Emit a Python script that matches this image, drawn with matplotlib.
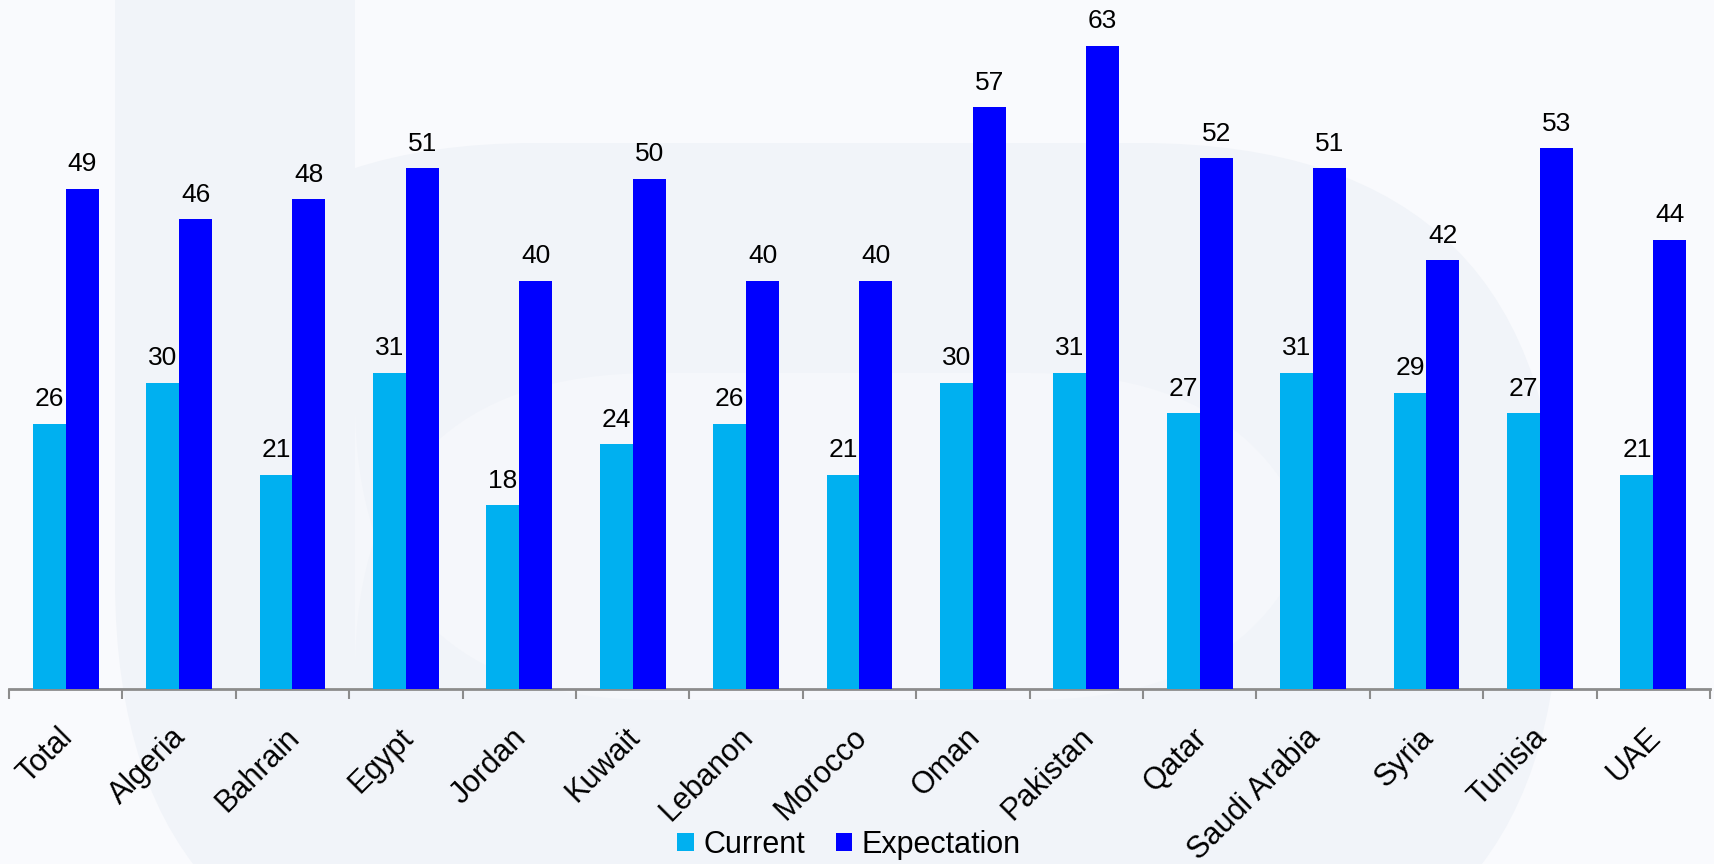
import matplotlib
matplotlib.use('Agg')
import matplotlib.pyplot as plt
import numpy as np
from matplotlib.patches import FancyBboxPatch, Rectangle
from matplotlib.transforms import Affine2D, ScaledTranslation

categories = ['Total', 'Algeria', 'Bahrain', 'Egypt', 'Jordan', 'Kuwait', 'Lebanon',
              'Morocco', 'Oman', 'Pakistan', 'Qatar', 'Saudi Arabia', 'Syria',
              'Tunisia', 'UAE']
current = [26, 30, 21, 31, 18, 24, 26, 21, 30, 31, 27, 31, 29, 27, 21]
expectation = [49, 46, 48, 51, 40, 50, 40, 40, 57, 63, 52, 51, 42, 53, 44]
series_names = ['Current', 'Expectation']
colors = ['#00B0F0', '#0000FF']

plt.rcParams['font.family'] = ['Liberation Sans', 'DejaVu Sans']

W, H = 1715, 864
fig = plt.figure(figsize=(W / 100, H / 100), dpi=100)
bg = '#f9fafd'
wm = '#f1f4f9'
fig.patch.set_facecolor(bg)

# faint watermark shapes (pixel coordinates, y downward)
pix = Affine2D().scale(1 / W, -1 / H).translate(0, 1) + fig.transFigure
outer = FancyBboxPatch((115, 143), 1560 - 115, 1000 - 143,
                       boxstyle='round,pad=0,rounding_size=420',
                       transform=pix, facecolor=wm, edgecolor='none', zorder=-3)
stem = Rectangle((115, -10), 355 - 115, 600, transform=pix,
                 facecolor=wm, edgecolor='none', zorder=-3)
counter = FancyBboxPatch((355, 373), 1330 - 355, 700 - 373,
                         boxstyle='round,pad=0,rounding_size=300',
                         transform=pix, facecolor='#f5f7fb', edgecolor='none', zorder=-2)
for p in (outer, stem, counter):
    fig.add_artist(p)

ax = fig.add_axes([9 / W, 1 - 689 / H, (1710 - 9) / W, 689 / H])
ax.set_facecolor('none')

x = np.arange(len(categories))
bw = 0.29
b1 = ax.bar(x - bw / 2, current, bw, color=colors[0], label=series_names[0], zorder=3)
b2 = ax.bar(x + bw / 2, expectation, bw, color=colors[1], label=series_names[1], zorder=3)

for bars, vals in ((b1, current), (b2, expectation)):
    for r, v in zip(bars, vals):
        ax.annotate(str(v), (r.get_x() + r.get_width() / 2, r.get_height()),
                    xytext=(0, 9), textcoords='offset points',
                    ha='center', va='bottom', fontsize=19, color='black', zorder=4)

ax.set_xlim(-0.5, len(categories) - 0.5)
ax.set_ylim(0, 67.5)

for s in ('top', 'right', 'left'):
    ax.spines[s].set_visible(False)
ax.spines['bottom'].set_color('#8c8c8c')
ax.spines['bottom'].set_linewidth(2)
ax.set_yticks([])

ax.set_xticks(np.arange(len(categories) + 1) - 0.5)
ax.set_xticklabels([])
ax.tick_params(axis='x', which='major', length=7, width=1.5, color='#8c8c8c', direction='out')
ax.set_xticks(x, minor=True)
ax.set_xticklabels(categories, minor=True, rotation=45, ha='right', va='top',
                   rotation_mode='anchor', fontsize=22)
ax.tick_params(axis='x', which='minor', length=0, pad=24)
off = ScaledTranslation(-8 / 100, 0, fig.dpi_scale_trans)
for lab in ax.get_xticklabels(minor=True):
    lab.set_transform(lab.get_transform() + off)

leg = fig.legend(handles=[b1, b2], labels=series_names, loc='center',
                 bbox_to_anchor=(849 / W, 1 - 845 / H), ncol=2, frameon=False,
                 fontsize=22, handlelength=0.55, handleheight=0.55,
                 handletextpad=0.3, columnspacing=1.0, borderaxespad=0, borderpad=0)

fig.savefig('out.png', dpi=100, facecolor=fig.get_facecolor())
